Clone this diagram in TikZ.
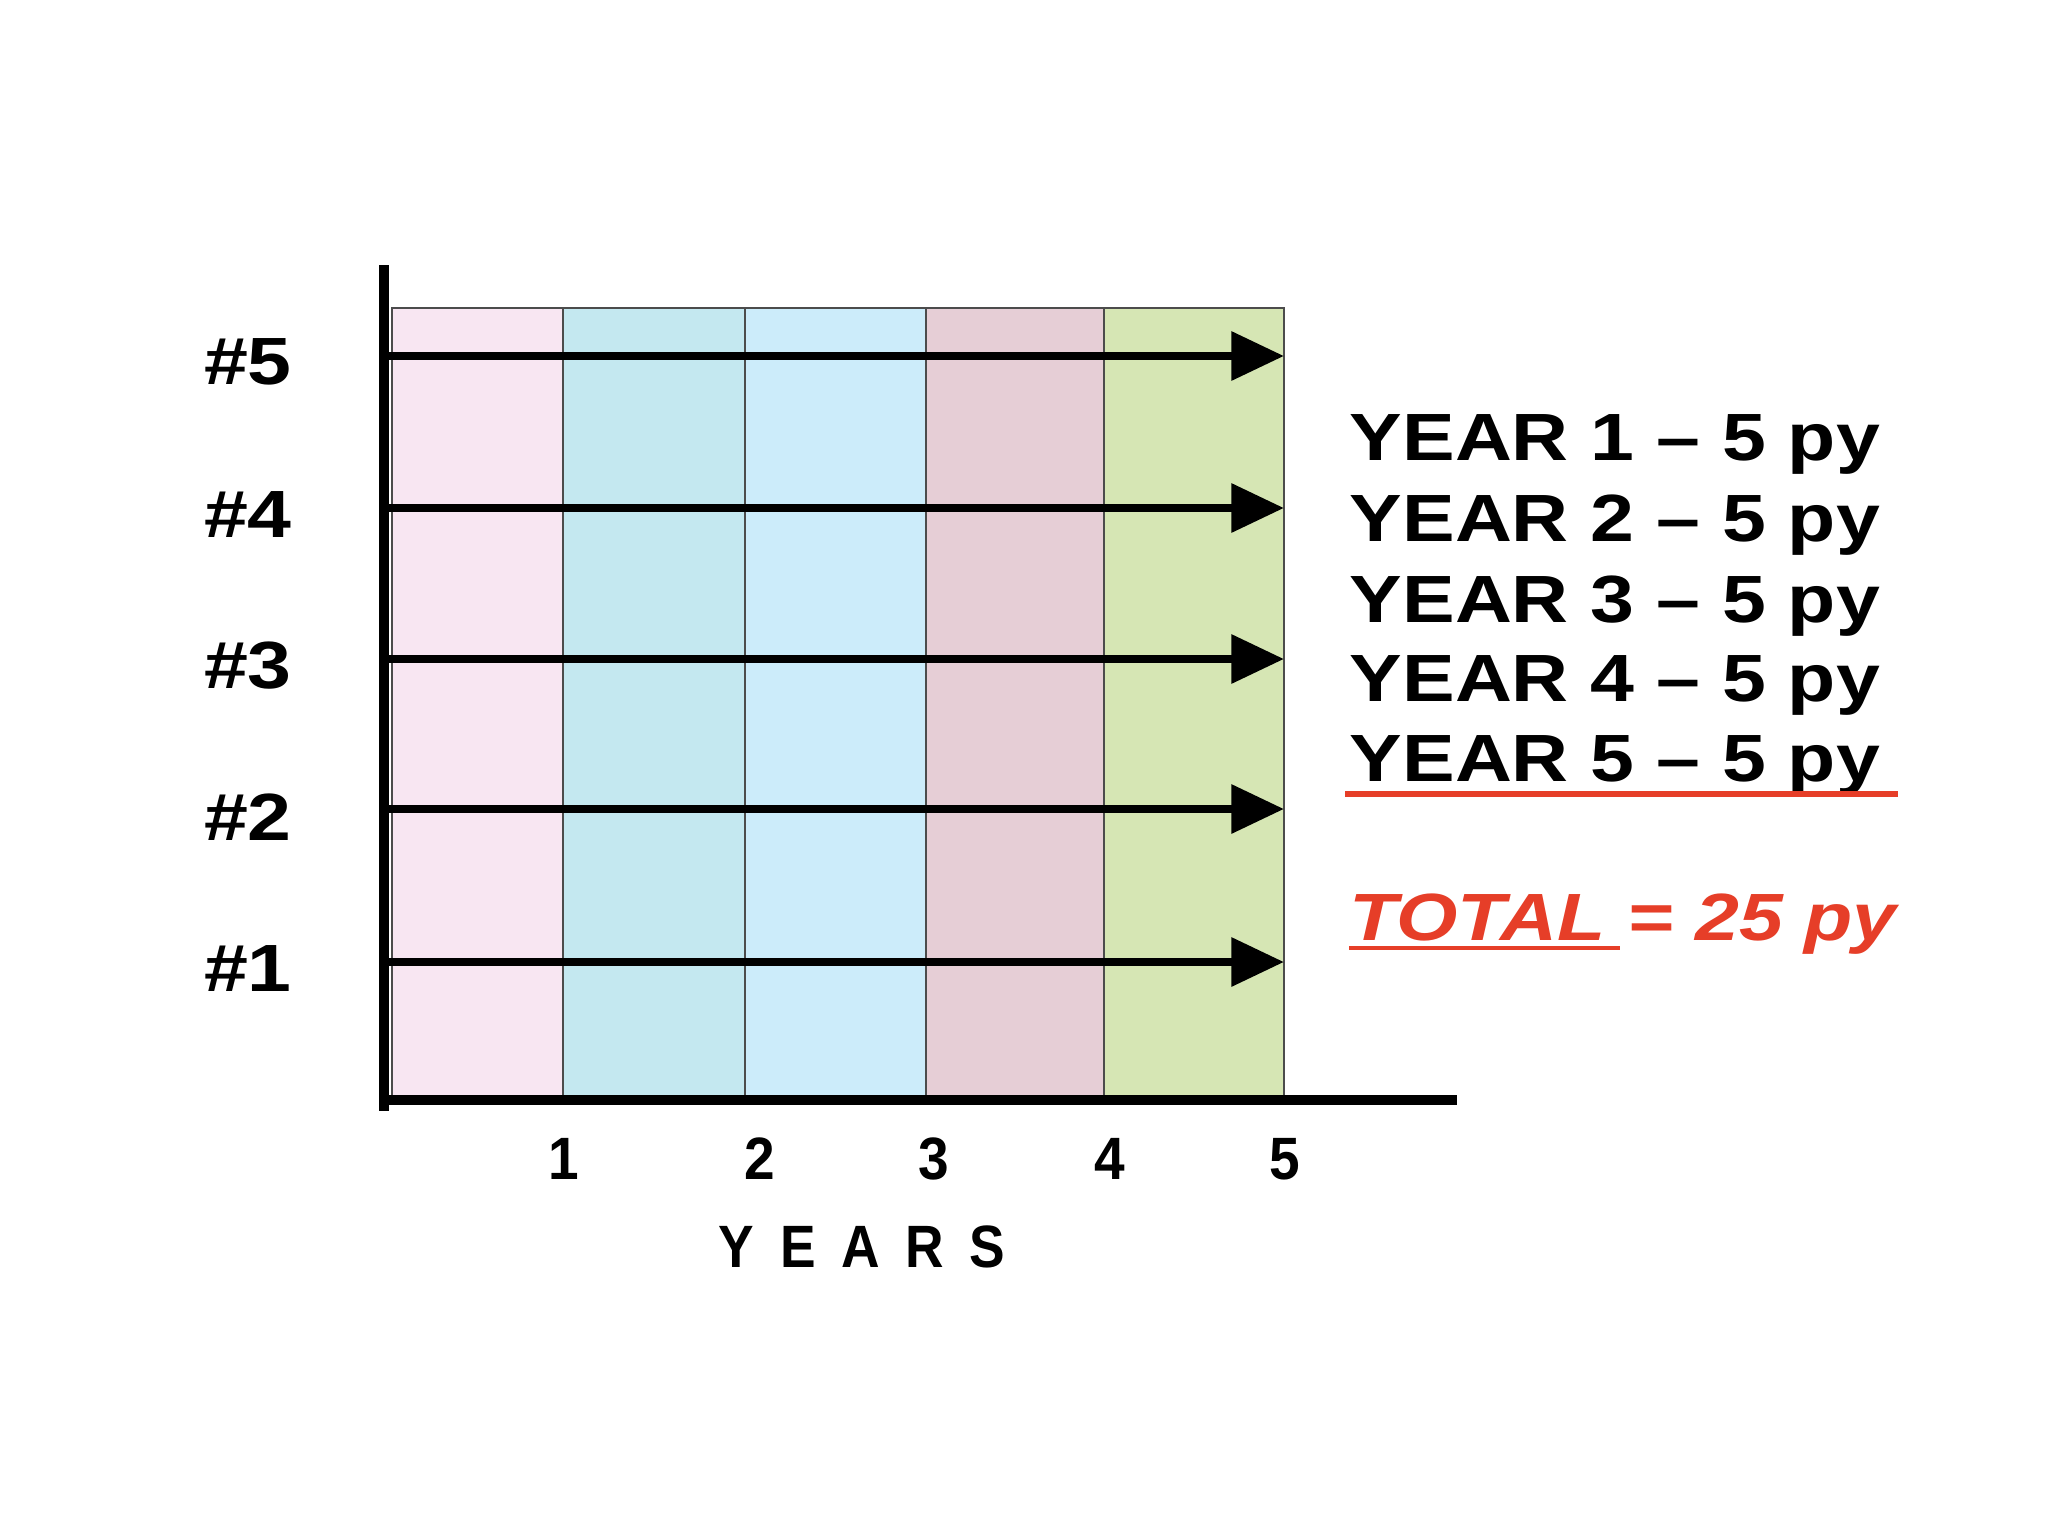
\documentclass[tikz,border=0pt]{standalone}
\usepackage{fontspec}
\setmainfont{Liberation Sans}
\usetikzlibrary{arrows.meta}

\definecolor{colpink}{RGB}{248,230,242}
\definecolor{colcyan}{RGB}{196,232,240}
\definecolor{colsky}{RGB}{204,236,250}
\definecolor{colmauve}{RGB}{230,206,214}
\definecolor{colgreen}{RGB}{214,230,180}
\definecolor{totalred}{RGB}{230,62,40}

\begin{document}
\begin{tikzpicture}[
        x=0.01cm,
        y=-0.01cm,
        yearcol/.style={
            draw=black!70,
            line width=0.8pt
        },
        axis/.style={
            line width=2.8pt,
            line cap=rect
        },
        arrow/.style={
            -{Triangle[length=15pt,width=13.5pt]},
            line width=2.4pt,
            shorten >=0pt,
            shorten <=0pt
        },
        rowlabel/.style={
            font=\bfseries\fontsize{19}{23}\selectfont,
            xscale=1.18,
            anchor=base,
            inner sep=0pt
        },
        ticklabel/.style={
            font=\bfseries\fontsize{17}{20}\selectfont,
            xscale=0.92,
            anchor=base,
            inner sep=0pt
        },
        listline/.style={
            font=\bfseries\fontsize{19}{23}\selectfont,
            xscale=1.18,
            anchor=base west,
            inner sep=0pt
        },
        redrule/.style={
            draw=totalred,
            line width=1.7pt
        }
    ]

        \path[use as bounding box, fill=white] (0,0) rectangle (2048,1536);

        % year columns
        \filldraw[yearcol, fill=colpink]  (392,308) rectangle (563,1100);
        \filldraw[yearcol, fill=colcyan]  (563,308) rectangle (745,1100);
        \filldraw[yearcol, fill=colsky]   (745,308) rectangle (926,1100);
        \filldraw[yearcol, fill=colmauve] (926,308) rectangle (1104,1100);
        \filldraw[yearcol, fill=colgreen] (1104,308) rectangle (1284,1100);

        % axes
        \draw[axis] (384,270) -- (384,1106);
        \draw[axis] (384,1100) -- (1452,1100);

        % persons
        \node[rowlabel] (p5) at (248,384) {\#5};
        \node[rowlabel] (p4) at (248,537) {\#4};
        \node[rowlabel] (p3) at (248,688) {\#3};
        \node[rowlabel] (p2) at (248,840) {\#2};
        \node[rowlabel] (p1) at (248,991) {\#1};

        \foreach \k/\yy in {1/962,2/809,3/659,4/508,5/356} {
            \coordinate (s\k) at (388,\yy);
            \coordinate (e\k) at (1284,\yy);
            \draw[arrow] (s\k) -- (e\k);
        }

        % year ticks
        \node[ticklabel] (t1) at (564,1179) {1};
        \node[ticklabel] (t2) at (760,1179) {2};
        \node[ticklabel] (t3) at (934,1179) {3};
        \node[ticklabel] (t4) at (1110,1179) {4};
        \node[ticklabel] (t5) at (1285,1179) {5};
        \node[ticklabel, xscale=0.97, font=\bfseries\fontsize{17}{19}\selectfont\addfontfeatures{LetterSpace=48}] (years) at (862,1267) {YEARS};

        % person-years
        \node[listline] (y1) at (1349,460) {YEAR 1 -- 5 py};
        \node[listline] (y2) at (1349,541) {YEAR 2 -- 5 py};
        \node[listline] (y3) at (1349,622) {YEAR 3 -- 5 py};
        \node[listline] (y4) at (1349,701) {YEAR 4 -- 5 py};
        \node[listline] (y5) at (1349,781) {YEAR 5 -- 5 py};
        \draw[redrule] (1345,794) -- (1898,794);

        \node[listline, text=totalred, font=\bfseries\itshape\fontsize{19}{23}\selectfont] (total) at (1349,940) {TOTAL = 25 py};
        \draw[redrule, line width=1.1pt] (1349,948) -- (1620,948);

    \end{tikzpicture}
\end{document}
